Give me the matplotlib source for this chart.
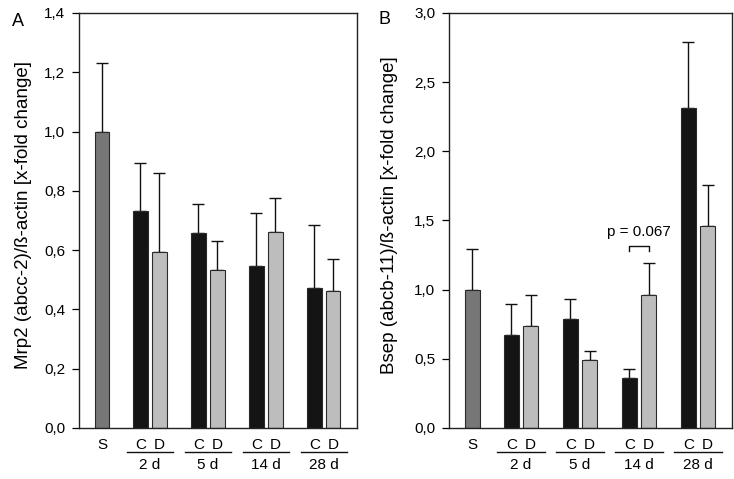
import numpy as np
import matplotlib
matplotlib.use("Agg")
from matplotlib import pyplot as plt
from matplotlib.ticker import FuncFormatter

plt.rcParams['font.family'] = ['Liberation Sans', 'DejaVu Sans']

groups = ["2 d", "5 d", "14 d", "28 d"]

# panel A: Mrp2
mrp2_sham = 1.0
mrp2_sham_err = 0.232
mrp2_c = [0.732, 0.657, 0.547, 0.472]
mrp2_c_err = [0.163, 0.098, 0.177, 0.214]
mrp2_d = [0.592, 0.532, 0.662, 0.463]
mrp2_d_err = [0.267, 0.098, 0.114, 0.106]

# panel B: Bsep
bsep_sham = 1.0
bsep_sham_err = 0.297
bsep_c = [0.67, 0.788, 0.364, 2.314]
bsep_c_err = [0.224, 0.145, 0.065, 0.476]
bsep_d = [0.74, 0.494, 0.962, 1.458]
bsep_d_err = [0.222, 0.065, 0.233, 0.301]

S_COL = "#777777"
C_COL = "#141414"
D_COL = "#bdbdbd"
EDGE = "#2a2a2a"


def comma(v, pos):
    return ("%.1f" % v).replace(".", ",")


def panel(ax, sham, sham_err, c, c_err, d, d_err, ymax, ystep, ylabel, labx):
    xc = 2.65 + 4.0 * np.arange(len(groups))
    xd = xc + 1.3
    w = 1.0
    ax.bar([0], [sham], w, color=S_COL, edgecolor=EDGE, linewidth=0.8, zorder=2)
    ax.bar(xc, c, w, color=C_COL, edgecolor=EDGE, linewidth=0.8, zorder=2)
    ax.bar(xd, d, w, color=D_COL, edgecolor=EDGE, linewidth=0.8, zorder=2)
    xs = np.concatenate([[0], xc, xd])
    ys = np.concatenate([[sham], c, d])
    es = np.concatenate([[sham_err], c_err, d_err])
    ax.errorbar(xs, ys, yerr=[np.zeros_like(es), es], fmt='none', ecolor="#111111",
                elinewidth=1.0, capsize=4, capthick=1.0, zorder=1)

    ax.set_xlim(-1.59, 17.59)
    ax.set_ylim(0, ymax)
    ax.set_yticks(np.arange(0, ymax + 1e-9, ystep))
    ax.yaxis.set_major_formatter(FuncFormatter(comma))
    ax.tick_params(axis='y', direction='out', length=5, width=0.9, pad=5, labelsize=11)
    ticks = [0] + [v for pair in zip(xc, xd) for v in pair]
    labels = ["S"] + ["C", "D"] * len(groups)
    ax.set_xticks(ticks)
    ax.set_xticklabels(labels)
    ax.tick_params(axis='x', length=0, pad=7, labelsize=11)
    for s in ax.spines.values():
        s.set_linewidth(1.0)
        s.set_color("#222222")

    tr = ax.get_xaxis_transform()
    for i, g in enumerate(groups):
        ax.plot([xc[i] - 0.95, xd[i] + 0.95], [-0.058, -0.058], color="#111111",
                lw=1.0, transform=tr, clip_on=False)
        ax.text((xc[i] + xd[i]) / 2, -0.09, g, transform=tr, ha='center', va='center',
                fontsize=11)
    ax.set_ylabel(ylabel, fontsize=13.5)
    ax.yaxis.set_label_coords(labx, 0.513)
    return xc, xd


fig = plt.figure(figsize=(7.34, 4.79), dpi=100)
axA = fig.add_axes([0.1076, 0.1065, 0.3788, 0.8664])
axB = fig.add_axes([0.6117, 0.1065, 0.3852, 0.8664])

panel(axA, mrp2_sham, mrp2_sham_err, mrp2_c, mrp2_c_err, mrp2_d, mrp2_d_err,
      1.4, 0.2, "Mrp2 (abcc-2)/ß-actin [x-fold change]", -0.17)
xc, xd = panel(axB, bsep_sham, bsep_sham_err, bsep_c, bsep_c_err, bsep_d, bsep_d_err,
               3.0, 0.5, "Bsep (abcb-11)/ß-actin [x-fold change]", -0.18)

# p-value bracket at 14 d
axB.plot([xc[2], xc[2], xd[2], xd[2]], [1.28, 1.318, 1.318, 1.28], color="#111111", lw=1.0)
axB.text((xc[2] + xd[2]) / 2, 1.39, "p = 0.067", ha='center', va='baseline', fontsize=11)

fig.text(12 / 734, 1 - 21 / 479, "A", fontsize=13, va='center', ha='left')
fig.text(378 / 734, 1 - 20 / 479, "B", fontsize=13, va='center', ha='left')

fig.savefig("out.png", dpi=100)
